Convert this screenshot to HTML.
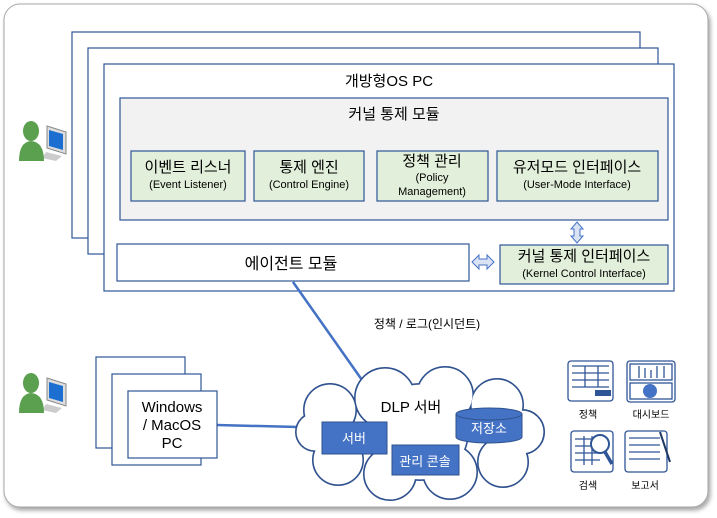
<!DOCTYPE html>
<html><head><meta charset="utf-8"><style>
html,body{margin:0;padding:0;background:#fff;}
svg{display:block;font-family:"Liberation Sans","Noto Sans CJK KR",sans-serif;}
</style></head><body>
<svg width="717" height="518" viewBox="0 0 717 518" xmlns="http://www.w3.org/2000/svg">
<defs><filter id="sh" x="-5%" y="-5%" width="110%" height="110%"><feDropShadow dx="2" dy="3" stdDeviation="2" flood-color="#000" flood-opacity="0.35"/></filter></defs>
<rect x="4" y="4" width="704" height="503" rx="16" fill="#fff" stroke="#a6a6a6" stroke-width="1" filter="url(#sh)"/>
<!-- stacked PCs -->
<rect x="72" y="32" width="568" height="206" fill="#fff" stroke="#2f5597" stroke-width="1.2"/>
<rect x="88" y="48" width="570" height="206" fill="#fff" stroke="#2f5597" stroke-width="1.2"/>
<rect x="104" y="64" width="570" height="227" fill="#fff" stroke="#2f5597" stroke-width="1.2"/>
<text x="389" y="86" font-size="15" text-anchor="middle" fill="#000">개방형OS PC</text>
<rect x="120" y="98" width="548" height="122" fill="#f2f2f2" stroke="#2f5597" stroke-width="1.2"/>
<text x="394" y="119" font-size="15" text-anchor="middle">커널 통제 모듈</text>
<g fill="#e2efda" stroke="#2f5597" stroke-width="1.2">
<rect x="131" y="151" width="114" height="50"/>
<rect x="254" y="151" width="110" height="50"/>
<rect x="377" y="151" width="111" height="50"/>
<rect x="497" y="151" width="161" height="50"/>
<rect x="500" y="245" width="168" height="39"/>
</g>
<g text-anchor="middle">
<text x="188" y="172" font-size="15">이벤트 리스너</text>
<text x="188" y="188" font-size="11">(Event Listener)</text>
<text x="309" y="172" font-size="15">통제 엔진</text>
<text x="309" y="188" font-size="11">(Control Engine)</text>
<text x="432" y="166" font-size="15">정책 관리</text>
<text x="432" y="181" font-size="11">(Policy</text>
<text x="432" y="195" font-size="11">Management)</text>
<text x="577" y="172" font-size="15">유저모드 인터페이스</text>
<text x="577" y="188" font-size="11">(User-Mode Interface)</text>
<text x="584" y="261" font-size="15">커널 통제 인터페이스</text>
<text x="584" y="277" font-size="11">(Kernel Control Interface)</text>
</g>
<rect x="117" y="244" width="352" height="37" fill="#fff" stroke="#2f5597" stroke-width="1.2"/>
<text x="291" y="269" font-size="16" text-anchor="middle">에이전트 모듈</text>
<!-- arrows -->
<path d="M577,222 L583,229 L580,229 L580,236 L583,236 L577,243 L571,236 L574,236 L574,229 L571,229 Z" fill="#dae3f3" stroke="#4472c4" stroke-width="1"/>
<path d="M472,262 L479,255 L479,259 L487,259 L487,255 L494,262 L487,269 L487,265 L479,265 L479,269 Z" fill="#dae3f3" stroke="#4472c4" stroke-width="1"/>
<!-- lines -->
<line x1="293" y1="282" x2="362" y2="380" stroke="#4472c4" stroke-width="2.5"/>
<line x1="217" y1="425" x2="298" y2="427" stroke="#4472c4" stroke-width="2.5"/>
<text x="427" y="328" font-size="12" text-anchor="middle">정책 / 로그(인시던트)</text>
<!-- cloud -->
<g stroke="#2f528f" stroke-width="2" fill="#fff">
<circle cx="330" cy="410" r="26"/><circle cx="385" cy="398" r="30"/><circle cx="445" cy="395" r="28"/><circle cx="497" cy="405" r="26"/><circle cx="522" cy="432" r="22"/><circle cx="503" cy="462" r="25"/><circle cx="450" cy="472" r="27"/><circle cx="390" cy="474" r="26"/><circle cx="338" cy="460" r="25"/><circle cx="315" cy="432" r="19"/><circle cx="420" cy="432" r="48"/>
</g>
<g fill="#fff">
<circle cx="330" cy="410" r="25.4"/><circle cx="385" cy="398" r="29.4"/><circle cx="445" cy="395" r="27.4"/><circle cx="497" cy="405" r="25.4"/><circle cx="522" cy="432" r="21.4"/><circle cx="503" cy="462" r="24.4"/><circle cx="450" cy="472" r="26.4"/><circle cx="390" cy="474" r="25.4"/><circle cx="338" cy="460" r="24.4"/><circle cx="315" cy="432" r="18.4"/><circle cx="420" cy="432" r="47.4"/>
</g>
<text x="411" y="412" font-size="15" text-anchor="middle">DLP 서버</text>
<rect x="322" y="422" width="65" height="32" fill="#4472c4" stroke="#2f528f"/>
<text x="354" y="443" font-size="13" fill="#fff" text-anchor="middle">서버</text>
<rect x="392" y="445" width="67" height="30" fill="#4472c4" stroke="#2f528f"/>
<text x="425" y="466" font-size="13" fill="#fff" text-anchor="middle">관리 콘솔</text>
<path d="M456,414 L456,437 A33,6 0 0 0 522,437 L522,414" fill="#4472c4" stroke="#2f528f"/>
<ellipse cx="489" cy="414" rx="33" ry="6" fill="#4472c4" stroke="#2f528f"/>
<text x="489" y="433" font-size="13" fill="#fff" text-anchor="middle">저장소</text>
<!-- windows PCs -->
<rect x="96" y="357" width="89" height="91" fill="#fff" stroke="#2f5597" stroke-width="1.2"/>
<rect x="112" y="374" width="89" height="91" fill="#fff" stroke="#2f5597" stroke-width="1.2"/>
<rect x="128" y="391" width="89" height="67" fill="#fff" stroke="#2f5597" stroke-width="1.2"/>
<text x="172" y="412" font-size="15" text-anchor="middle">Windows</text>
<text x="172" y="430" font-size="15" text-anchor="middle">/ MacOS</text>
<text x="172" y="448" font-size="15" text-anchor="middle">PC</text>
<!-- user icons -->
<g id="u">
<path d="M47,126 L66,132 L66,154 L47,148 Z" fill="#ddd" stroke="#888"/>
<path d="M49,130 L63,134 L63,150 L49,146 Z" fill="#1c6fd1"/>
<path d="M46,152 L62,156 L56,161 L42,158Z" fill="#ccc"/>
<ellipse cx="31" cy="131" rx="8" ry="10" fill="#5aa04e"/>
<path d="M19,161 Q19,142 31,141 Q44,142 44,161 Z" fill="#5aa04e"/>
</g>
<use href="#u" transform="translate(0,252)"/>
<!-- right icons -->
<g fill="none" stroke="#2f5597" stroke-width="1.3">
<rect x="568" y="361" width="45" height="40" rx="3"/>
<path d="M572,366H609M572,373H609M572,380H609M572,387H609M585,366V387M598,366V387"/>
<rect x="627" y="361" width="48" height="41" rx="3"/>
<rect x="630" y="364" width="42" height="16"/><rect x="630" y="383" width="42" height="16"/>
<path d="M639,366V378M645,368V378M651,370V378M657,366V378M664,366V378"/>
<rect x="571" y="431" width="42" height="41" rx="3"/>
<path d="M575,439H600M575,446H600M575,453H600M575,460H600M584,436V465M592,436V465"/>
<rect x="625" y="431" width="42" height="41" rx="3"/>
<path d="M629,438H660M629,445H660M629,452H660M629,459H660"/>
</g>
<rect x="595" y="390" width="16" height="6" fill="#2f5597"/>
<circle cx="650" cy="391" r="7" fill="#4472c4"/>
<circle cx="600" cy="444" r="9" fill="#fff" stroke="#2f5597" stroke-width="2"/>
<line x1="605" y1="452" x2="612" y2="464" stroke="#2f5597" stroke-width="3.5"/>
<line x1="660" y1="432" x2="670" y2="462" stroke="#203864" stroke-width="2"/>
<g font-size="10" text-anchor="middle">
<text x="588" y="418">정책</text><text x="651" y="418">대시보드</text>
<text x="588" y="489">검색</text><text x="645" y="489">보고서</text>
</g>
</svg>
</body></html>
